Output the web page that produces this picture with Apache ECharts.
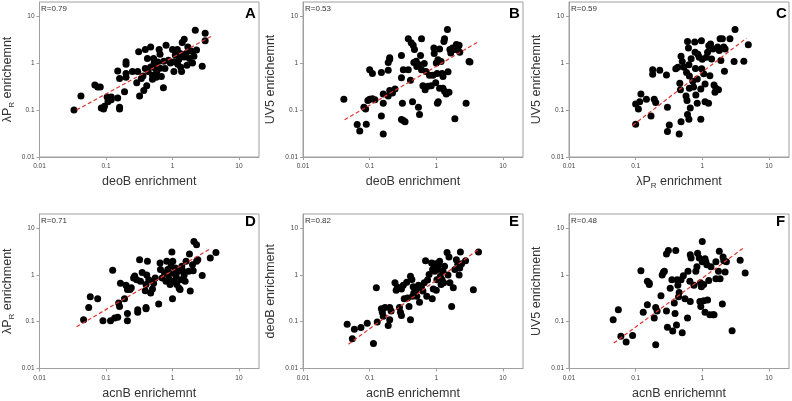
<!DOCTYPE html>
<html><head><meta charset="utf-8">
<script src="https://cdn.jsdelivr.net/npm/echarts@6/dist/echarts.min.js"></script>
<style>html,body{margin:0;padding:0;background:#fff}#c{width:792px;height:401px}</style>
</head><body><div id="c"></div>
<script>
// ---- data ----
const tickValues = [0.01, 0.1, 1, 10];
const axisMin = 0.01, axisMax = 20;

const aX = [0.033,0.042,0.068,0.075,0.082,0.085,0.092,0.095,0.104,0.11,0.107,0.12,0.12,0.15,0.16,0.16,0.15,0.16,0.19,0.2,0.2,0.2,0.2,0.25,0.3,0.31,0.32,0.37,0.34,0.36,0.39,0.39,0.42,0.43,0.47,0.47,0.5,0.52,0.53,0.55,0.5,0.58,0.57,0.63,0.65,0.6,0.65,0.68,0.73,0.74,0.77,0.87,0.93,1.0,1.05,1.06,1.1,1.18,1.2,1.25,1.3,1.33,1.37,1.4,1.5,1.5,1.6,1.65,1.7,1.8,1.9,2.0,2.2,2.3,2.1,2.8,3.1,3.1,0.8,0.29,0.41];
const aY = [0.1,0.2,0.34,0.31,0.31,0.11,0.105,0.12,0.19,0.17,0.15,0.165,0.19,0.18,0.115,0.105,0.68,0.47,0.245,0.6,0.5,1.07,0.95,0.66,0.66,1.75,0.2,0.26,0.47,0.53,1.95,0.77,1.25,0.66,2.2,0.83,0.55,1.25,1.0,0.78,0.45,0.65,0.5,1.95,1.55,1.05,0.78,0.52,0.3,1.1,0.77,1.15,1.0,1.95,0.66,1.07,1.48,1.95,0.95,1.2,1.6,0.82,0.66,2.75,3.2,1.35,1.6,0.9,2.2,1.25,1.8,1.0,5.0,1.9,1.4,0.86,4.3,3.0,2.4,0.38,0.33];

const bX = [0.041,0.065,0.071,0.089,0.082,0.087,0.094,0.1,0.11,0.12,0.1,0.11,0.15,0.15,0.16,0.16,0.16,0.19,0.19,0.2,0.2,0.19,0.2,0.24,0.22,0.3,0.3,0.32,0.3,0.32,0.34,0.31,0.38,0.38,0.41,0.42,0.45,0.47,0.46,0.44,0.5,0.51,0.55,0.54,0.56,0.6,0.58,0.6,0.63,0.66,0.68,0.7,0.75,0.79,0.84,0.89,0.92,0.93,0.98,1.0,1.03,1.06,1.04,1.07,1.12,1.12,1.18,1.22,1.26,1.3,1.33,1.26,1.33,1.41,1.47,1.5,1.55,1.6,1.65,1.75,1.85,1.9,2.0,2.1,2.2,2.25,2.8,3.1,3.2];
const bY = [0.17,0.049,0.036,0.05,0.115,0.105,0.16,0.17,0.175,0.165,0.72,0.6,0.63,0.075,0.14,0.22,0.031,0.7,1.03,1.2,1.3,0.2,0.26,0.28,0.23,0.49,1.45,0.72,0.063,0.06,0.056,0.14,3.3,0.72,0.43,2.7,2.4,1.95,1.03,0.15,1.1,0.85,0.92,0.115,0.08,3.3,1.45,0.72,0.33,0.98,0.27,0.66,0.32,0.55,0.33,0.55,2.1,1.6,0.38,1.0,0.6,1.18,0.14,0.15,2.0,0.29,1.08,0.6,0.29,2.9,3.3,0.52,0.25,0.22,5.2,0.65,0.24,1.95,1.65,2.1,1.95,0.065,2.5,1.95,2.4,1.7,0.14,1.08,1.05];

const cX = [0.1,0.1,0.11,0.115,0.12,0.145,0.17,0.19,0.2,0.18,0.18,0.23,0.29,0.3,0.3,0.32,0.4,0.43,0.45,0.46,0.47,0.48,0.48,0.5,0.53,0.58,0.57,0.59,0.6,0.6,0.62,0.63,0.64,0.64,0.63,0.66,0.68,0.72,0.74,0.77,0.78,0.79,0.8,0.84,0.84,0.86,0.9,0.95,0.95,0.97,0.98,1.0,1.05,1.1,1.1,1.15,1.2,1.25,1.3,1.24,1.33,1.38,1.45,1.5,1.55,1.6,1.7,1.75,1.8,1.85,1.9,2.0,2.1,2.15,2.2,2.6,3.0,3.1,4.2,4.9];
const cY = [0.05,0.135,0.105,0.15,0.22,0.17,0.075,0.17,0.145,0.72,0.58,0.7,0.56,0.115,0.035,0.048,0.76,0.82,0.031,0.37,0.27,0.056,1.4,1.08,0.82,0.63,0.2,0.16,0.08,2.9,2.1,0.92,0.53,0.29,0.064,0.11,1.23,0.41,0.31,2.8,1.7,0.77,0.21,0.14,0.46,1.55,1.33,0.28,0.064,3.0,0.76,1.2,0.59,0.36,0.15,1.33,1.7,2.35,0.54,0.14,2.55,1.22,2.0,0.34,0.24,0.29,2.2,0.27,1.85,3.3,1.13,3.3,2.2,0.67,2.0,3.3,1.08,5.2,1.1,2.45];

const dX = [0.046,0.055,0.058,0.075,0.09,0.117,0.126,0.135,0.15,0.155,0.16,0.165,0.19,0.2,0.21,0.21,0.21,0.23,0.24,0.26,0.27,0.29,0.3,0.3,0.32,0.33,0.35,0.39,0.4,0.4,0.4,0.42,0.41,0.44,0.47,0.5,0.52,0.55,0.62,0.65,0.66,0.7,0.76,0.8,0.82,0.85,0.87,0.9,0.92,0.95,0.98,1.0,1.01,1.05,1.07,1.1,1.13,1.16,1.23,1.26,1.3,1.34,1.38,1.45,1.5,1.55,1.6,1.75,1.85,1.8,2.0,2.05,2.1,2.3,2.3,2.4,2.8,3.7,4.5];
const dY = [0.11,0.2,0.34,0.31,0.105,0.105,1.25,0.12,0.125,0.25,0.21,0.66,0.31,0.6,0.49,0.15,0.105,0.49,0.53,0.86,0.95,0.79,0.18,0.16,2.1,0.73,1.13,0.46,0.62,0.2,0.19,1.95,1.0,0.79,0.41,0.5,0.66,0.86,0.24,1.8,1.3,0.86,1.1,0.73,1.95,1.3,1.0,0.79,0.62,1.53,3.1,0.31,1.95,1.1,0.73,1.4,0.94,0.62,1.2,0.52,0.49,0.79,1.53,1.2,1.0,0.73,1.95,1.2,0.45,2.8,1.65,1.23,5.2,4.4,1.95,2.1,0.97,2.3,3.0];

const eX = [0.046,0.055,0.059,0.074,0.092,0.114,0.126,0.13,0.15,0.155,0.16,0.17,0.19,0.2,0.2,0.21,0.24,0.25,0.26,0.28,0.29,0.3,0.3,0.32,0.33,0.36,0.37,0.39,0.41,0.41,0.43,0.44,0.45,0.46,0.49,0.51,0.54,0.56,0.6,0.63,0.66,0.69,0.72,0.74,0.78,0.85,0.87,0.88,0.9,0.93,0.95,0.97,1.0,1.02,1.06,1.08,1.12,1.15,1.18,1.22,1.26,1.29,1.33,1.45,1.5,1.55,1.6,1.7,1.8,1.9,2.0,2.1,2.2,2.25,2.3,2.4,2.75,3.6,4.3];
const eY = [0.088,0.043,0.069,0.075,0.093,0.034,0.53,0.098,0.19,0.16,0.13,0.2,0.083,0.2,0.11,0.17,0.68,0.47,0.55,0.2,0.16,0.135,0.5,0.6,0.31,0.7,0.32,0.21,0.11,0.94,0.8,0.35,0.56,0.41,0.45,0.35,0.6,0.26,0.53,0.45,0.68,2.0,0.35,0.78,1.02,1.8,0.31,1.3,0.5,1.53,1.2,1.72,0.47,0.79,1.3,1.66,1.95,0.94,0.62,0.79,1.2,0.68,1.53,3.0,1.0,2.4,0.68,0.21,0.53,1.3,2.1,1.66,1.0,1.4,3.1,1.72,2.0,0.48,3.1];

const fX = [0.046,0.055,0.06,0.072,0.09,0.12,0.13,0.15,0.16,0.16,0.15,0.19,0.2,0.21,0.2,0.24,0.25,0.26,0.27,0.29,0.31,0.29,0.3,0.33,0.35,0.36,0.38,0.39,0.4,0.42,0.43,0.41,0.44,0.45,0.48,0.5,0.52,0.55,0.6,0.61,0.65,0.66,0.66,0.68,0.75,0.8,0.83,0.85,0.9,0.92,0.95,0.94,0.97,1.0,1.0,1.05,1.05,1.1,1.1,1.13,1.17,1.2,1.25,1.3,1.35,1.45,1.6,1.5,1.6,1.75,1.8,1.85,2.0,2.05,2.1,2.2,2.3,2.8,3.7,4.4];
const fY = [0.11,0.18,0.049,0.037,0.051,1.23,0.16,0.73,0.62,0.67,0.23,0.12,0.2,0.17,0.032,0.36,1.0,1.13,1.2,2.8,3.3,0.17,0.076,0.52,0.79,0.063,0.25,0.15,3.3,0.79,0.6,0.085,0.34,0.42,0.79,0.058,0.96,0.31,0.12,1.2,0.73,0.27,2.7,2.3,0.6,1.2,1.5,2.9,2.3,0.27,0.21,0.68,0.56,5.2,1.9,0.62,0.28,0.16,2.2,1.9,1.65,0.29,0.76,0.14,1.5,0.14,1.9,0.14,0.83,1.2,3.2,0.83,0.24,2.4,2.0,1.15,1.9,0.064,2.05,1.1];

// regression line end points
const fitAX = [0.036, 3.8], fitAY = [0.1, 3.7];
const fitBX = [0.042, 4.2], fitBY = [0.062, 2.8];
const fitCX = [0.09, 4.6],  fitCY = [0.047, 3.4];
const fitDX = [0.036, 3.8], fitDY = [0.078, 3.7];
const fitEX = [0.048, 4.4], fitEY = [0.033, 3.6];
const fitFX = [0.047, 4.3], fitFY = [0.035, 3.9];

const rLabels = ['R=0.79', 'R=0.53', 'R=0.59', 'R=0.71', 'R=0.82', 'R=0.48'];
const letters = ['A', 'B', 'C', 'D', 'E', 'F'];
const LPR = '{n|λP}{s|R}';
const xNames = ['{n|deoB enrichment}', '{n|deoB enrichment}', LPR + '{n| enrichment}',
                '{n|acnB enrichemnt}', '{n|acnB enrichemnt}', '{n|acnB enrichemnt}'];
const yNames = [LPR + '{n| enrichemnt}', '{n|UV5 enrichemnt}', '{n|UV5 enrichemnt}',
                LPR + '{n| enrichment}', '{n|deoB enrichment}', '{n|UV5 enrichment}'];

// ---- layout ----
const xs = [aX, bX, cX, dX, eX, fX], ys = [aY, bY, cY, dY, eY, fY];
const fxs = [fitAX, fitBX, fitCX, fitDX, fitEX, fitFX], fys = [fitAY, fitBY, fitCY, fitDY, fitEY, fitFY];
const gridPos = [[39, 2], [303, 2], [569, 2], [39, 214], [303, 214], [569, 214]];
const GW = 220, GH = 155;
const letterLeft = [245, 509, 776, 245, 509, 776];
const letterTopOff = [4, 4, 4, 0, 0, 0];

const FONT = 'Liberation Sans, Arial, sans-serif';
const nameRich = {
  n: { fontSize: 12.5, color: '#333', fontFamily: FONT, lineHeight: 16 },
  s: { fontSize: 8, color: '#333', fontFamily: FONT, lineHeight: 8, verticalAlign: 'bottom' }
};
const gray = '#a0a0a0';

const grid = [], xAxis = [], yAxis = [], series = [], title = [];
for (let i = 0; i < 6; i++) {
  const [l, t] = gridPos[i];
  grid.push({ left: l, top: t, width: GW, height: GH, show: true, borderColor: gray, borderWidth: 1, backgroundColor: '#fff' });
  const common = {
    gridIndex: i, type: 'log', logBase: 10, min: axisMin, max: axisMax,
    nameLocation: 'middle',
    nameTextStyle: { rich: nameRich },
    axisLine: { show: true, lineStyle: { color: gray, width: 1 } },
    axisTick: { show: true, inside: false, length: 3, lineStyle: { color: gray }, customValues: tickValues },
    axisLabel: { fontSize: 6.5, color: '#444', fontFamily: FONT, customValues: tickValues,
                 formatter: v => String(v) },
    splitLine: { show: false },
    minorTick: { show: false }
  };
  xAxis.push(Object.assign({}, common, {
    name: xNames[i], nameGap: 17,
    axisLabel: Object.assign({}, common.axisLabel, { margin: 6 })
  }));
  yAxis.push(Object.assign({}, common, {
    name: yNames[i], nameGap: 24,
    axisLabel: Object.assign({}, common.axisLabel, { margin: 5 })
  }));
  series.push({
    type: 'scatter', xAxisIndex: i, yAxisIndex: i,
    data: xs[i].map((v, k) => [v, ys[i][k]]),
    symbolSize: 7, itemStyle: { color: '#000', opacity: 1 }, z: 2
  });
  series.push({
    type: 'line', xAxisIndex: i, yAxisIndex: i,
    data: fxs[i].map((v, k) => [v, fys[i][k]]),
    showSymbol: false, symbol: 'none',
    lineStyle: { color: '#e0332c', width: 1.2, type: [4, 2.5] }, z: 3
  });
  title.push({ text: rLabels[i], left: l + 2, top: t + 3, padding: 0,
    textStyle: { fontSize: 8, fontWeight: 'normal', color: '#333', fontFamily: FONT } });
  title.push({ text: letters[i], left: letterLeft[i], top: t + letterTopOff[i], padding: 0,
    textStyle: { fontSize: 15, fontWeight: 'bold', color: '#000', fontFamily: FONT } });
}

const chart = echarts.init(document.getElementById('c'), null, { renderer: 'canvas' });
chart.setOption({ animation: false, backgroundColor: '#fff', grid, xAxis, yAxis, series, title });
</script>
</body></html>
